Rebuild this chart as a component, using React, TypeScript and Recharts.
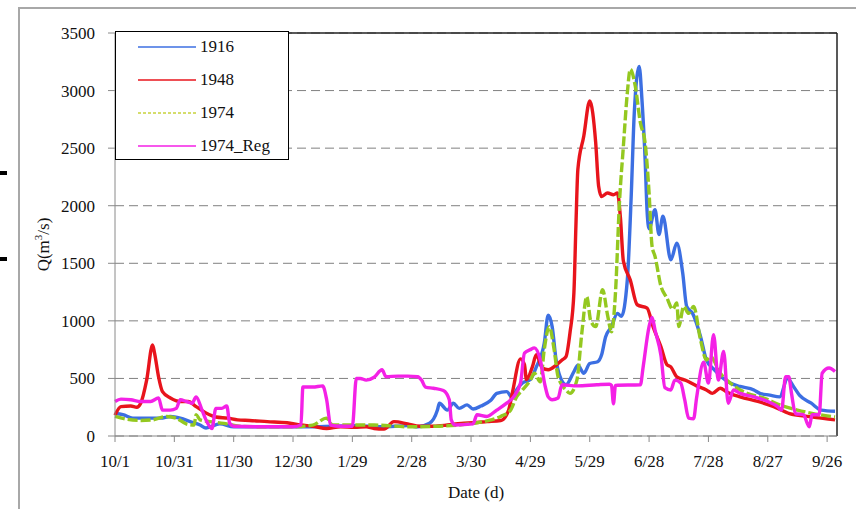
import { LineChart, Line, XAxis, YAxis, CartesianGrid, ReferenceLine } from "recharts";

// day of water year (0 = 10/1) -> Q (m3/s)
const tickDays = [0, 30, 60, 90, 120, 150, 180, 210, 240, 270, 300, 330, 360];
const tickLabels = ["10/1", "10/31", "11/30", "12/30", "1/29", "2/28", "3/30", "4/29", "5/29", "6/28", "7/28", "8/27", "9/26"];
const yTicks = [0, 500, 1000, 1500, 2000, 2500, 3000, 3500];

const q1916: [number, number][] = [
  [0, 195], [4, 185], [9, 155], [16, 155], [23, 155], [28, 170], [33, 155], [38, 125], [43, 95], [46, 70],
  [53, 105], [60, 80], [77, 80], [97, 80], [110, 85], [121, 90], [135, 80], [148, 90], [153, 80], [159, 110],
  [163, 225], [164, 285], [168, 225], [171, 285], [174, 240], [178, 270], [181, 235], [185, 260], [190, 310],
  [193, 370], [198, 385], [201, 330], [203, 400], [206, 460], [210, 490], [213, 600], [217, 805], [219, 1050],
  [221, 950], [223, 660], [225, 515], [228, 445], [232, 560], [234, 615], [237, 545], [240, 630], [244, 645],
  [246, 705], [248, 860], [251, 950], [254, 1065], [256, 1040], [259, 1355], [261, 2100], [262.5, 2800],
  [265, 3210], [266.4, 2920], [268, 2400], [269, 1950], [270, 1800], [273, 1965], [275, 1750], [277, 1910],
  [281, 1530], [284, 1675], [287, 1415], [289, 1125], [292, 1065], [296, 865], [299, 660], [303, 575],
  [311, 460], [316, 430], [323, 400], [326, 370], [331, 355], [336, 340], [340, 500], [343, 430], [346, 355],
  [352, 285], [357, 225], [364, 215],
];

const q1948: [number, number][] = [
  [0, 180], [3, 255], [8, 260], [11, 250], [13, 285], [16, 485], [19, 790], [20, 720], [22, 515], [24, 385],
  [28, 330], [33, 300], [37, 300], [41, 255], [46, 200], [51, 165], [57, 155], [62, 140], [68, 135], [77, 125],
  [87, 115], [94, 95], [100, 85], [107, 65], [114, 80], [121, 75], [127, 80], [131, 65], [136, 60], [141, 125],
  [148, 105], [154, 85], [161, 85], [168, 95], [175, 110], [181, 115], [188, 125], [195, 135], [198, 185],
  [199, 225], [201, 385], [205, 670], [207, 620], [208, 490], [211, 600], [213, 705], [216, 590], [219, 575],
  [223, 615], [226, 660], [228, 690], [230, 895], [232, 1245], [233, 1820], [234, 2315], [237, 2605],
  [240, 2910], [243, 2550], [244.5, 2170], [246, 2080], [249, 2110], [252, 2095], [254, 2110], [255.5, 1900],
  [257, 1520], [260.5, 1355], [264, 1140], [269, 1110], [272, 950], [276, 775], [279, 620], [281, 600],
  [284, 515], [289, 480], [294, 435], [299, 400], [302, 370], [306, 415], [309, 385], [316, 340], [325, 300],
  [333, 255], [341, 195], [350, 170], [357, 155], [364, 140],
];

const q1974: [number, number][] = [
  [0, 170], [6, 145], [13, 135], [19, 140], [26, 170], [31, 155], [36, 105], [40, 95], [41, 185], [43, 140],
  [48, 125], [55, 110], [63, 85], [77, 80], [90, 80], [100, 95], [107, 155], [110, 95], [121, 95], [131, 95],
  [148, 80], [164, 85], [181, 110], [190, 140], [195, 170], [200, 225], [203, 340], [206, 400], [210, 485],
  [212, 545], [215, 470], [217, 750], [219.5, 950], [222, 750], [224, 515], [228, 400], [230, 370],
  [233.5, 485], [236, 895], [238.5, 1210], [240.5, 1000], [243, 950], [246.5, 1270], [249, 1050], [251, 905],
  [253, 1240], [255, 2020], [257, 2515], [259, 2980], [260.5, 3185], [263, 3040], [265.6, 2720], [268, 2545],
  [270, 2110], [271.5, 1650], [273, 1560], [276, 1300], [279, 1200], [282, 1100], [284, 1155], [285, 950],
  [287.5, 1125], [290, 1065], [292.5, 1125], [296, 835], [299, 660], [301, 690], [306, 545], [311, 460],
  [319.5, 370], [328, 330], [336, 270], [345, 225], [353, 195], [364, 165],
];

const q1974Reg: [number, number][] = [
  [0, 300], [3, 320], [8, 315], [13, 300], [18, 300], [22, 330], [24, 225], [28, 225], [31, 240], [33, 315],
  [36, 300], [39, 285], [41, 340], [44, 225], [46, 140], [49, 65], [51, 240], [54, 240], [56.5, 260], [58, 110],
  [60, 85], [77, 80], [90, 80], [94, 95], [95, 425], [100, 425], [105, 435], [107, 315], [109, 95], [114, 85],
  [120, 85], [122, 500], [124, 500], [127, 485], [131, 510], [135, 575], [137, 515], [143, 520], [148, 520],
  [153, 515], [155, 485], [157, 425], [161, 415], [166, 395], [169, 315], [170, 140], [172, 95], [181, 105],
  [183, 185], [188, 170], [193, 225], [198, 285], [201.5, 340], [205, 460], [207, 720], [210, 750], [212, 765],
  [215, 660], [217.5, 430], [219, 340], [221, 315], [224, 330], [226, 445], [233.5, 435], [243.6, 445],
  [250, 450], [251, 440], [252, 280], [253, 440], [265.6, 445], [267, 600], [270, 950], [271.5, 1030],
  [273, 920], [276, 700], [278, 420], [281, 400], [283, 485], [286, 460], [288, 315], [290, 155], [292.5, 150],
  [294, 330], [297.6, 640], [300, 460], [302.6, 880], [305, 485], [307.7, 735], [310, 285], [312.7, 400],
  [316, 370], [323, 340], [330, 300], [335, 255], [337, 225], [339, 515], [340.6, 515], [342, 370], [344, 195],
  [348, 185], [351, 80], [352.4, 185], [356, 185], [357.5, 545], [361, 590], [364, 560],
];

const FONT = "\"Liberation Serif\", \"DejaVu Serif\", serif";
const FS = 17;

const series = [
  { name: "1916", pts: q1916, color: "#3c6fe2", legendColor: "#3c6fe2", dash: undefined as string | undefined },
  { name: "1948", pts: q1948, color: "#e8141c", legendColor: "#e8141c", dash: undefined },
  { name: "1974", pts: q1974, color: "#94c820", legendColor: "#c8d23c", dash: "10 3" },
  { name: "1974_Reg", pts: q1974Reg, color: "#f421e6", legendColor: "#f421e6", dash: undefined },
];

const rows = (pts: [number, number][]) => pts.map(([d, v]) => ({ d, v }));

function YLabel(props: any) {
  const vb = props.viewBox || { x: 55, y: 33, width: 60, height: 403 };
  const cx = vb.x - 10;
  const cy = vb.y + vb.height / 2 + 10;
  return (
    <text x={cx} y={cy} transform={`rotate(-90 ${cx} ${cy})`} textAnchor="middle" dominantBaseline="middle"
      fontFamily={FONT} fontSize={FS} fill="#111">
      Q(m<tspan dy={-6} fontSize={11}>3</tspan><tspan dy={6}>/s)</tspan>
    </text>
  );
}

function ChartLegend() {
  return (
    <div style={{
      position: "absolute", left: 115, top: 31, width: 174, height: 129, boxSizing: "border-box",
      border: "1px solid #000", background: "#fff", fontFamily: FONT, fontSize: FS, color: "#111",
    }}>
      {series.map((s, i) => (
        <div key={s.name} style={{ position: "absolute", left: 0, top: 4 + i * 33, height: 22, display: "flex", alignItems: "center" }}>
          <svg width={84} height={22}>
            <line x1={22} x2={80} y1={11} y2={11} stroke={s.legendColor} strokeWidth={1.5}
              strokeDasharray={s.dash ? "3 2" : undefined} />
          </svg>
          <span>{s.name}</span>
        </div>
      ))}
    </div>
  );
}

export default function App() {
  return (
    <div style={{ position: "absolute", left: 0, top: 0, width: 856, height: 509, background: "#fff", overflow: "hidden", fontFamily: FONT }}>
      <div style={{ position: "absolute", left: 18, top: 7, right: -2, bottom: -2, borderLeft: "2px solid #a8a8a8", borderTop: "2px solid #a8a8a8" }} />
      <div style={{ position: "absolute", left: 0, top: 171, width: 7, height: 4, background: "#000" }} />
      <div style={{ position: "absolute", left: 0, top: 257, width: 7, height: 4, background: "#000" }} />
      <div style={{ position: "absolute", left: 0, top: 0 }}>
        <LineChart width={856} height={509} margin={{ top: 33, right: 19, left: 55, bottom: 9 }} style={{ fontFamily: FONT }}>
          <CartesianGrid vertical={false} stroke="#808080" strokeDasharray="9 5" />
          <XAxis
            dataKey="d"
            type="number"
            domain={[0, 365]}
            ticks={tickDays}
            tickFormatter={(d: number) => tickLabels[tickDays.indexOf(d)] ?? ""}
            height={64}
            tickSize={6}
            tickMargin={13}
            stroke="#8a8a8a"
            tick={{ fontFamily: FONT, fontSize: FS, fill: "#111" }}
            label={{ value: "Date (d)", position: "insideBottom", offset: 2, fontFamily: FONT, fontSize: FS, fill: "#111" }}
          />
          <YAxis
            type="number"
            domain={[0, 3500]}
            ticks={yTicks}
            width={60}
            tickSize={7}
            tickMargin={13}
            stroke="#8a8a8a"
            tick={{ fontFamily: FONT, fontSize: FS, fill: "#111" }}
            label={{ content: YLabel }}
          />
          <ReferenceLine y={3500} stroke="#222" strokeWidth={1.5} />
          <ReferenceLine x={365} stroke="#222" strokeWidth={1.5} />
          {series.map((s) => (
            <Line
              key={s.name}
              name={s.name}
              data={rows(s.pts)}
              dataKey="v"
              type="monotone"
              stroke={s.color}
              strokeWidth={3.4}
              strokeDasharray={s.dash}
              dot={false}
              activeDot={false}
              isAnimationActive={false}
            />
          ))}
        </LineChart>
      </div>
      <ChartLegend />
    </div>
  );
}
